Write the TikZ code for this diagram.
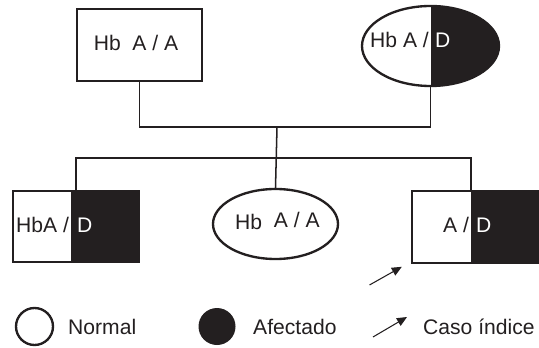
\documentclass[tikz,border=0pt]{standalone}
\usepackage{fontspec}
\setmainfont{Liberation Sans}
\usetikzlibrary{arrows.meta,shapes.geometric}
\definecolor{negro}{RGB}{35,31,32}

\begin{document}
\begin{tikzpicture}[x=0.03cm, y=-0.03cm, font=\fontsize{18}{21}\selectfont, text=negro,
  borde/.style={draw=negro, line width=2pt},
  linea/.style={draw=negro, line width=1.3pt},
  mitad/.style={path picture={\fill[negro] ([xshift=#1]path picture bounding box.north) rectangle (path picture bounding box.south east);}},
  mitad/.default=0pt,
  texto/.style={inner sep=0pt, anchor=base west},
  indice/.style={draw=negro, line width=0.9pt, -{Triangle[length=0.3cm, width=0.26cm]}}]
\useasboundingbox (0, 0) rectangle (539, 348);

\node [borde, minimum width=3.75cm, minimum height=2.16cm] (padre) at (139.5, 45) {};
\node [borde, ellipse, minimum width=4.11cm, minimum height=2.4cm, mitad] (madre) at (430.5, 46) {};

\node [borde, minimum width=3.78cm, minimum height=2.13cm, mitad=-0.15cm] (hijo1) at (76, 226.5) {};
\node [borde, ellipse, minimum width=3.75cm, minimum height=2.1cm] (hija) at (275.5, 224) {};
\node [borde, minimum width=3.81cm, minimum height=2.16cm, mitad=-0.135cm] (hijo2) at (475.5, 227) {};

\node [texto, anchor=base] (tpadre) at (136, 50.5) {Hb\ \ A / A};
\node [texto] (tmadre1) at (370, 48) {Hb A /};
\node [texto, text=white] (tmadre2) at (435, 48) {D};
\node [texto] (thijo1a) at (16, 233) {HbA /};
\node [texto, text=white] (thijo1b) at (77, 233) {D};
\node [texto] (thija) at (235, 230) {Hb\ \ \raisebox{2.5pt}{A / A}};
\node [texto] (thijo2a) at (443, 233) {A /};
\node [texto, text=white] (thijo2b) at (476, 233) {D};

\coordinate (union) at (277, 127);
\coordinate (hermanos) at (277, 158);
\draw [linea] (padre.south) |- (union) -| (madre.south);
\draw [linea] (union) -- (hija.north);
\draw [linea] (hijo1.north) |- (hermanos) -| ([xshift=-0.135cm]hijo2.north);

\coordinate (cola) at (369.5, 285);
\draw [indice] (cola) -- ([shift={(-9, 2.6)}]hijo2.south west);

% leyenda
\node [borde, circle, minimum size=1.11cm, inner sep=0pt] (normal) at (34.5, 326.5) {};
\node [texto] (tnormal) at (68, 334.5) {Normal};
\node [circle, fill=negro, minimum size=1.11cm, inner sep=0pt] (afectado) at (217, 326.5) {};
\node [texto] (tafectado) at (253, 334.5) {Afectado};
\coordinate (ley1) at (373, 337);
\coordinate (ley2) at (407, 317);
\draw [indice] (ley1) -- (ley2);
\node [texto] (tcaso) at (423, 334.5) {Caso índice};
\end{tikzpicture}
\end{document}
